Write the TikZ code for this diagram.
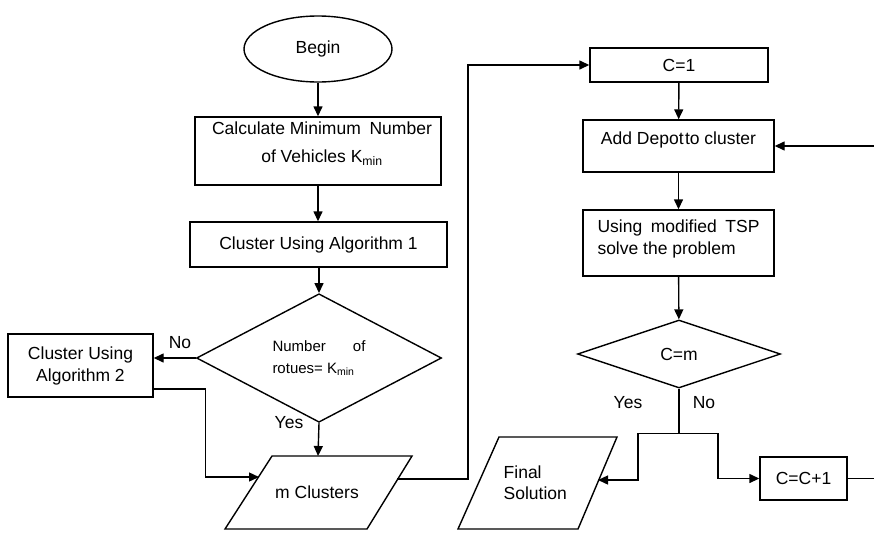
\documentclass[tikz,border=0pt]{standalone}
\usepackage{fontspec}
\setmainfont{Liberation Sans}
\usetikzlibrary{shapes.geometric,arrows.meta}
\begin{document}
\begin{tikzpicture}[x=1pt,y=-1pt,
  line width=1.4pt,
  txt/.style={font=\fontsize{17.5}{22}\selectfont},
  box/.style={draw,rectangle,inner sep=0pt,align=center,txt},
  decide/.style={draw,diamond,inner sep=0pt,align=center,txt},
  flow/.style={-{Triangle[length=10pt,width=9pt]}},
  lbl/.style={txt,inner sep=0pt}]
\useasboundingbox (0,0) rectangle (874,533);

% ---- left column ----
\node[draw,ellipse,minimum width=148pt,minimum height=66pt,inner sep=0pt,txt] (begin) at (318,49) {Begin};
\node[box,minimum width=246pt,minimum height=68pt] (kmin) at (318,151) {};
\node[lbl,align=center] (kminText) at (322,144)
  {Calculate Minimum\hspace{0.5em}Number\\[6pt]of Vehicles K\textsubscript{min}};
\node[box,minimum width=257pt,minimum height=45pt] (alg1) at (318.5,244.5) {Cluster Using Algorithm 1};
\node[decide,minimum width=245pt,minimum height=107pt,align=left] (routes) at (319,358)
  {\fontsize{15}{20}\selectfont\makebox[93pt][s]{Number\hfill of}\\
   \fontsize{15}{20}\selectfont rotues=\ K\textsubscript{min}};
\node[box,minimum width=145pt,minimum height=63pt] (alg2) at (80.5,365.5) {Cluster Using\\Algorithm 2};

% m Clusters (parallelogram)
\draw (272,456) -- (412,456) -- (367,529) -- (225,529) -- cycle;
\node[lbl] (mclus) at (317,492) {m Clusters};
\coordinate (mclusTop) at (318,456);
\coordinate (mclusIn) at (259,477);
\coordinate (mclusOut) at (397,479);

% ---- right column ----
\node[box,minimum width=178pt,minimum height=34pt] (c1) at (679,65) {C=1};
\node[box,minimum width=191pt,minimum height=52pt] (depot) at (678.5,146) {};
\node[lbl] (depotText) at (678.5,140) {Add Depot\hspace{0.08em}to cluster};
\node[box,minimum width=191pt,minimum height=66pt] (tsp) at (678.5,243) {};
\node[lbl,align=left] (tspText) at (678.5,239)
  {\makebox[162pt][s]{Using\hfill modified\hfill TSP}\\solve the problem};
\node[decide,minimum width=203pt,minimum height=68pt] (cm) at (679,354) {C=m};

% Final Solution (parallelogram)
\draw (499,437) -- (617,437) -- (578,529) -- (458,529) -- cycle;
\node[lbl,align=left,anchor=west,font=\fontsize{17.5}{21}\selectfont] (final) at (503,483) {Final\\Solution};
\coordinate (finalIn) at (598,480);

\node[box,minimum width=87pt,minimum height=43pt] (cc1) at (803.5,478.5) {C=C+1};
\coordinate (loopLow) at (874,478.5);
\coordinate (loopHigh) at (874,146);

% ---- connectors ----
\draw[flow] (begin) -- (kmin);
\draw[flow] (kmin.south) -- (kmin.south |- alg1.north);
\draw[flow] (alg1.south -| routes.north) -- (routes.north);
\draw[flow] (routes.west) -- (routes.west -| alg2.east);
\node[lbl] (no1) at (180,343) {No};
\draw[flow] ([yshift=-23.5pt]alg2.east) -- ++(52,0) |- (mclusIn);
\draw[flow] (routes.south) -- (mclusTop);
\node[lbl] (yes1) at (289,423) {Yes};
\draw[flow] (mclusOut) -- ++(71,0) |- (c1.west);

\draw[flow] (c1) -- (depot);
\draw[flow] (depot) -- (tsp);
\draw[flow] (tsp) -- (cm);
\draw (cm.south) -- ++(0,45) coordinate (split);
\draw[flow] (split) -- ++(-41,0) |- (finalIn);
\draw[flow] (split) -- ++(39,0) |- (cc1.west);
\node[lbl] (yes2) at (628,403) {Yes};
\node[lbl] (no2) at (704,403) {No};
\draw (cc1.east) -- (loopLow);
\draw[flow] (loopHigh) -- (depot.east);
\end{tikzpicture}
\end{document}
